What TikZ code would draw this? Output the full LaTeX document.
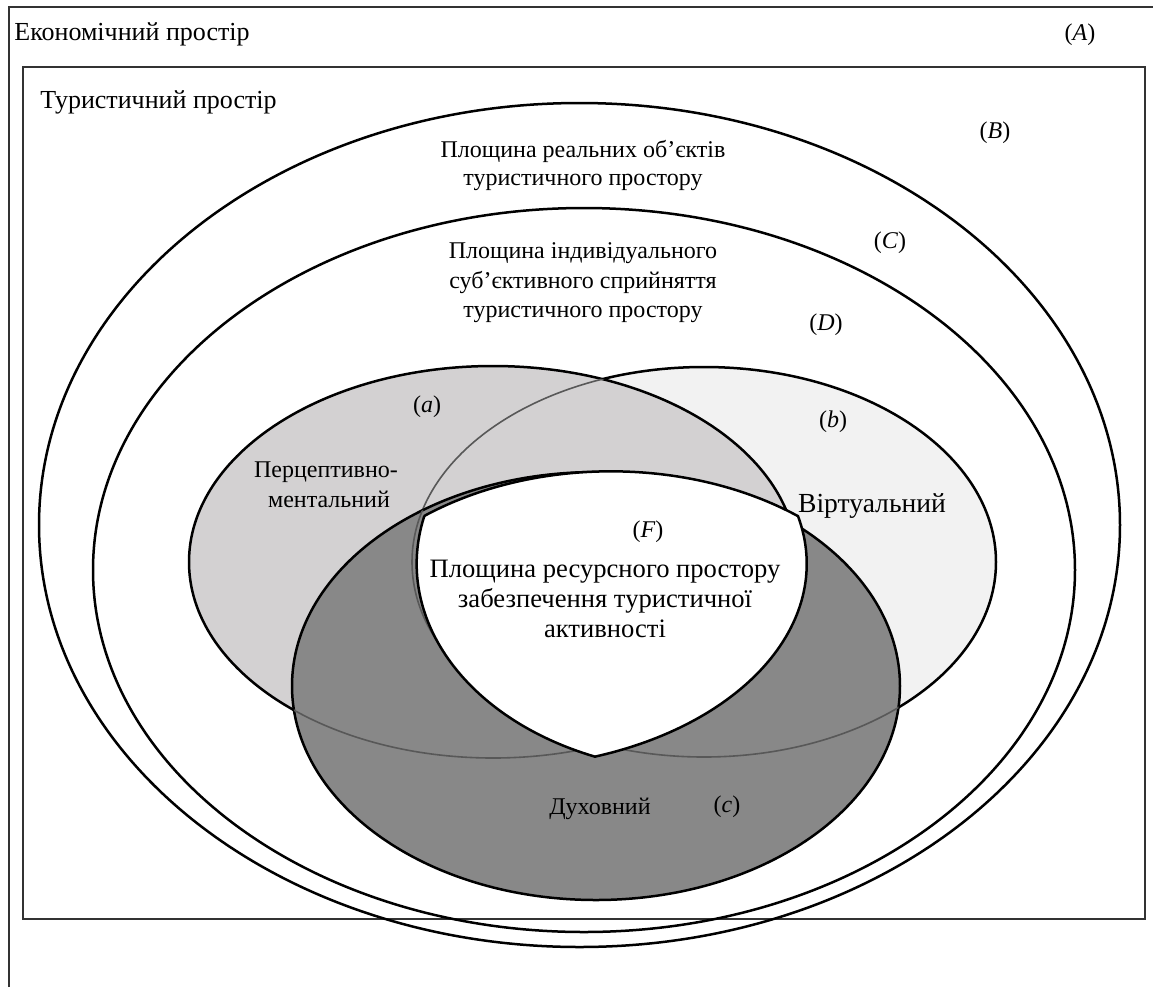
\documentclass[tikz,border=0pt]{standalone}
\usepackage{fontspec}
\setmainfont{Liberation Serif}
\definecolor{aFill}{RGB}{211,209,210}
\definecolor{bFill}{RGB}{242,242,242}
\definecolor{cFill}{RGB}{136,136,136}
\definecolor{ghostC}{RGB}{88,88,88}
\begin{document}
\begin{tikzpicture}[x=0.5pt,y=-0.5pt,
  font=\fontsize{12pt}{14.5pt}\selectfont,
  ring/.style={draw=black,line width=1.25pt},
  frameline/.style={draw=black!80,line width=0.65pt},
  ghost/.style={draw=ghostC,line width=0.8pt},
  lbl/.style={inner sep=0pt,anchor=base},
  txt/.style={inner sep=0pt,anchor=base},
  bigtxt/.style={inner sep=0pt,anchor=base,font=\fontsize{13.3pt}{16pt}\selectfont},
  toptxt/.style={inner sep=0pt,anchor=base west,font=\fontsize{13pt}{16pt}\selectfont}]
\useasboundingbox (0,0) rectangle (1153,987);
\def\ea{(493,562) ellipse [x radius=304, y radius=196]}
\def\eb{(704,562) ellipse [x radius=292, y radius=195]}
\def\ec{(596,686) ellipse [x radius=304, y radius=214]}
\def\Fpath{(424,517) arc[start angle=193, end angle=112, x radius=285, y radius=208]
  arc[start angle=71, end angle=-13.5, x radius=314, y radius=204]
  arc[start angle=-52.6, end angle=-127.2, x radius=308, y radius=218] -- cycle}
% frames
\draw[frameline] (9,987) -- (9,7) -- (1153,7);
\draw[frameline] (23,67) rectangle (1145,919);
% outer ellipses
\draw[ring] (579.5,525) ellipse [x radius=540.5, y radius=422];
\draw[ring] (584,570) ellipse [x radius=491, y radius=362];
% b then a
\path[fill=bFill,ring] \eb;
\path[fill=aFill,ring] \ea;
\begin{scope}
  \clip \ea;
  \draw[ghost] \eb;
\end{scope}
% c
\path[fill=cFill,ring] \ec;
\begin{scope}
  \clip \ec;
  \draw[ghost] \ea;
  \draw[ghost] \eb;
\end{scope}
% F
\path[fill=white,ring,line join=miter] \Fpath;
% texts
\node[toptxt] (econ) at (14,40) {Економічний простір};
\node[lbl] (labA) at (1080,40) {(\textit{A})};
\node[toptxt] (tour) at (40,108) {Туристичний простір};
\node[lbl] (labB) at (995,138) {(\textit{B})};
\node[txt] (b1) at (583,157) {Площина реальних об’єктів};
\node[txt] (b2) at (583,185) {туристичного простору};
\node[lbl] (labC) at (890,248) {(\textit{C})};
\node[txt] (c1) at (583,258) {Площина індивідуального};
\node[txt] (c2) at (583,288) {суб’єктивного сприйняття};
\node[txt] (c3) at (583,317) {туристичного простору};
\node[lbl] (labD) at (826,330) {(\textit{D})};
\node[lbl] (laba) at (427,412) {(\textit{a})};
\node[lbl] (labb) at (833,427) {(\textit{b})};
\node[txt] (p1) at (326,477) {Перцептивно-};
\node[txt] (p2) at (329,507) {ментальний};
\node[bigtxt,font=\fontsize{13.8pt}{16pt}\selectfont] (virt) at (872,512) {Віртуальний};
\node[lbl] (labF) at (648,537) {(\textit{F})};
\node[bigtxt] (f1) at (605,577) {Площина ресурсного простору};
\node[bigtxt] (f2) at (605,607) {забезпечення туристичної};
\node[bigtxt] (f3) at (605,637) {активності};
\node[txt] (spir) at (600,814) {Духовний};
\node[lbl] (labc) at (727,812) {(\textit{c})};
\end{tikzpicture}
\end{document}
